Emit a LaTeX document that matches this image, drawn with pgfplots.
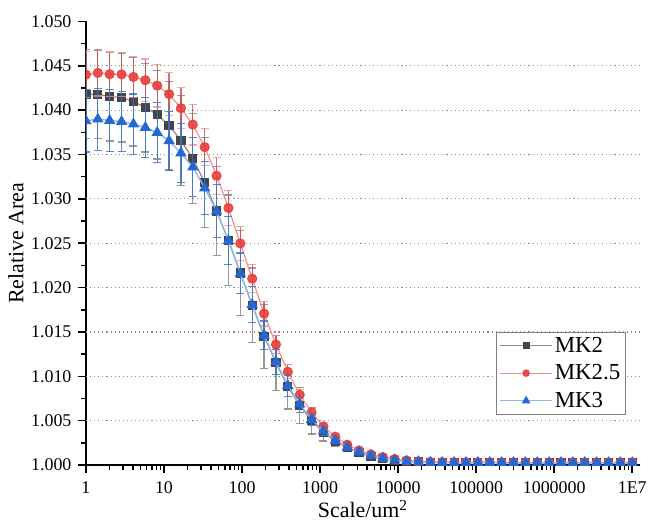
\documentclass[border=0pt]{standalone}
\usepackage{pgfplots}
\usepackage{pgfplotstable}
\usepackage{fontspec}
\setmainfont{Liberation Serif}
\pgfplotsset{compat=1.18}

\definecolor{mktwo}{HTML}{454545}
\definecolor{mktwoline}{HTML}{8C8C8C}
\definecolor{mkred}{HTML}{E8403C}
\definecolor{mkredline}{HTML}{F29090}
\definecolor{mkreder}{HTML}{C85050}
\definecolor{mkblue}{HTML}{2468D6}
\definecolor{mkblueline}{HTML}{8FB6EA}
\definecolor{mkblueer}{HTML}{3A74C8}

% x  MK2 (y,err)  MK2.5 (y,err)  MK3 (y,err)
\pgfplotstableread{
x y2 e2 y25 e25 y3 e3
1 1.04180 0.0050 1.04400 0.0026 1.03879 0.0035
1.4196 1.04178 0.0050 1.04419 0.0026 1.03898 0.0035
2.0153 1.04153 0.0050 1.04405 0.0025 1.03883 0.0035
2.8610 1.04141 0.0050 1.04403 0.0025 1.03871 0.0034
4.0614 1.04096 0.0050 1.04374 0.0023 1.03842 0.0034
5.7657 1.04029 0.0050 1.04337 0.0024 1.03804 0.0034
8.1851 1.03950 0.0050 1.04276 0.0024 1.03747 0.0034
11.620 1.03826 0.0050 1.04180 0.0024 1.03654 0.0033
16.496 1.03657 0.0051 1.04022 0.0023 1.03516 0.0033
23.418 1.03455 0.0051 1.03837 0.0023 1.03358 0.0033
33.244 1.03185 0.0051 1.03583 0.0021 1.03122 0.0030
47.194 1.02863 0.0050 1.03260 0.0021 1.02863 0.0030
66.998 1.02534 0.0051 1.02897 0.0020 1.02529 0.0027
95.112 1.02165 0.0048 1.02498 0.0019 1.02160 0.0023
135.02 1.01801 0.0042 1.02101 0.0016 1.01808 0.0020
191.68 1.01452 0.0036 1.01707 0.0014 1.01463 0.0016
272.11 1.01152 0.0031 1.01358 0.0010 1.01164 0.0014
386.29 1.00882 0.0025 1.01051 0.0008 1.00897 0.0012
548.38 1.00672 0.0020 1.00792 0.0006 1.00686 0.0009
778.48 1.00500 0.0015 1.00593 0.0004 1.00514 0.0007
1105.2 1.00371 0.0010 1.00436 0.0003 1.00383 0.0005
1568.9 1.00270 0.0006 1.00320 0.0002 1.00278 0.0003
2227.3 1.00196 0.0004 1.00230 0.0002 1.00199 0.0002
3162.3 1.00140 0.0003 1.00165 0.0001 1.00146 0.0002
4489.0 1.00101 0.0002 1.00120 0.0001 1.00106 0.0001
6372.6 1.00072 0.0001 1.00090 0.0001 1.00075 0.0001
9046.6 1.00053 0.0001 1.00068 0.0001 1.00055 0.0001
12843 1.00041 0.0001 1.00052 0.0001 1.00042 0.0001
18232 1.00035 0.0001 1.00042 0.0001 1.00035 0.0001
25883 1.00031 0.0001 1.00036 0.0001 1.00031 0.0001
36744 1.00029 0 1.00033 0 1.00029 0
52162 1.00028 0 1.00032 0 1.00028 0
74050 1.00028 0 1.00031 0 1.00028 0
105130 1.00028 0 1.00031 0 1.00028 0
149240 1.00028 0 1.00031 0 1.00028 0
211870 1.00027 0 1.00030 0 1.00027 0
300770 1.00027 0 1.00030 0 1.00027 0
426980 1.00027 0 1.00030 0 1.00027 0
606150 1.00027 0 1.00030 0 1.00027 0
860500 1.00027 0 1.00030 0 1.00027 0
1221600 1.00027 0 1.00030 0 1.00027 0
1734200 1.00027 0 1.00029 0 1.00027 0
2461900 1.00027 0 1.00029 0 1.00027 0
3494900 1.00026 0 1.00029 0 1.00026 0
4961500 1.00026 0 1.00029 0 1.00026 0
7043400 1.00026 0 1.00029 0 1.00026 0
10000000 1.00026 0 1.00029 0 1.00026 0
}\mkdata

\begin{document}
\begin{tikzpicture}
\begin{axis}[
    scale only axis,
    width=554bp, height=444bp,
    xmode=log,
    xmin=1, xmax=1.24e7,
    ymin=1, ymax=1.05,
    axis lines=left,
    x axis line style={-, line width=2bp},
    y axis line style={-, line width=2bp},
    tick align=outside,
    major tick length=8bp,
    minor tick length=4.5bp,
    tick style={line width=1.6bp, black},
    xtick={1,10,100,1000,10000,100000,1000000,10000000},
    xticklabels={1,10,100,1000,10000,100000,1000000,1E7},
    minor xtick={2,3,4,5,6,7,8,9,20,30,40,50,60,70,80,90,
        200,300,400,500,600,700,800,900,
        2000,3000,4000,5000,6000,7000,8000,9000,
        20000,30000,40000,50000,60000,70000,80000,90000,
        200000,300000,400000,500000,600000,700000,800000,900000,
        2000000,3000000,4000000,5000000,6000000,7000000,8000000,9000000},
    ytick={1,1.005,1.01,1.015,1.02,1.025,1.03,1.035,1.04,1.045,1.05},
    minor y tick num=1,
    extra y ticks={1.005,1.01,1.015,1.02,1.025,1.03,1.035,1.04,1.045},
    extra y tick labels={},
    extra y tick style={grid=major, major tick length=0pt},
    y grid style={gray!90, line width=1.1bp, dash pattern=on 1.1bp off 3bp},
    yticklabel style={/pgf/number format/fixed, /pgf/number format/fixed zerofill,
        /pgf/number format/precision=3, xshift=-3bp},
    /pgf/number format/assume math mode=true,
    tick label style={font=\fontsize{18}{20}\selectfont},
    xticklabel style={yshift=-5bp},
    xlabel={Scale/um\textsuperscript{2}},
    ylabel={Relative Area},
    label style={font=\fontsize{22}{26}\selectfont},
    xlabel style={at={([yshift=-52.5bp]axis description cs:0.5,0)}, anchor=base},
    ylabel style={at={([xshift=-70bp]axis description cs:0,0.5)}, anchor=center},
    legend style={at={(0.975,0.114)}, anchor=south east, draw=gray,
        line width=0.8bp, font=\fontsize{23}{27}\selectfont,
        inner sep=3bp, row sep=7bp},
    legend cell align=left,
    legend image code/.code={
        \draw[mark repeat=2, mark phase=2, #1, every mark/.append style={scale=0.7}]
        plot coordinates {(0bp,0bp) (26bp,0bp) (52bp,0bp)};},
    clip marker paths=true,
    error bars/y dir=both,
    error bars/y explicit,
]
\addplot[color=mktwoline, line width=1.2bp,
    mark=square*, mark size=4bp, mark options={fill=mktwo, draw=mktwo},
    error bars/error bar style={line width=1.2bp, color=gray, opacity=0.8},
    error bars/error mark options={rotate=90, mark size=4bp, line width=1.2bp, color=gray}]
    table[x=x, y=y2, y error=e2] {\mkdata};
\addlegendentry{MK2}
\addplot[color=mkredline, line width=1.2bp,
    mark=*, mark size=4.5bp, mark options={fill=mkred, draw=mkred, fill opacity=0.9, draw opacity=0.9},
    error bars/error bar style={line width=1.2bp, color=mkreder, opacity=0.8},
    error bars/error mark options={rotate=90, mark size=4bp, line width=1.2bp, color=mkredline}]
    table[x=x, y=y25, y error=e25] {\mkdata};
\addlegendentry{MK2.5}
\addplot[color=mkblueline, line width=1.4bp,
    mark=triangle*, mark size=5.2bp, mark options={fill=mkblue, draw=mkblue},
    error bars/error bar style={line width=1.2bp, color=mkblueer, opacity=0.85},
    error bars/error mark options={rotate=90, mark size=4bp, line width=1.2bp, color=mkblueer}]
    table[x=x, y=y3, y error=e3] {\mkdata};
\addlegendentry{MK3}
\end{axis}
% page margins as in the reference
\path (-86bp,-61.3bp) (564bp,465.4bp);
\end{tikzpicture}
\end{document}
